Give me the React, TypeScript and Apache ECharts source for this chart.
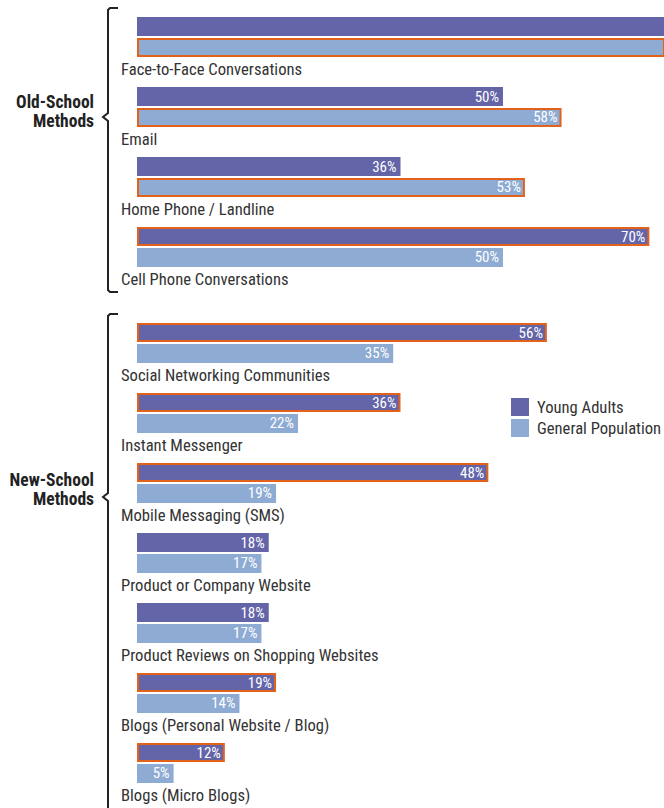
import React, { useEffect, useRef } from "react";
import * as echarts from "echarts";

const oldCategories = [
  "Face-to-Face Conversations",
  "Email",
  "Home Phone / Landline",
  "Cell Phone Conversations",
];
const oldYoung = [81, 50, 36, 70];
const oldGeneral = [84, 58, 53, 50];
const oldHighlightYoung = [false, false, false, true];
const oldHighlightGeneral = [true, true, true, false];

const newCategories = [
  "Social Networking Communities",
  "Instant Messenger",
  "Mobile Messaging (SMS)",
  "Product or Company Website",
  "Product Reviews on Shopping Websites",
  "Blogs (Personal Website / Blog)",
  "Blogs (Micro Blogs)",
];
const newYoung = [56, 36, 48, 18, 18, 19, 12];
const newGeneral = [35, 22, 19, 17, 17, 14, 5];
const newHighlightYoung = [true, true, true, false, false, true, true];
const newHighlightGeneral = [false, false, false, false, false, false, false];

const seriesNames = ["Young Adults", "General Population"];
const groupNames = ["Old-School\nMethods", "New-School\nMethods"];

const X_MAX = 72;
const PURPLE = "#6464A8";
const LIGHT = "#8EABD3";
const ORANGE = "#E2621B";
const FONT = "'Roboto Condensed', Roboto, sans-serif";

function buildData(vals: number[], hl: boolean[]) {
  return vals.map((v, i) => ({
    value: v,
    itemStyle: hl[i] ? { borderColor: ORANGE, borderWidth: 2 } : { borderWidth: 0 },
  }));
}

export default function App() {
  const ref = useRef<HTMLDivElement>(null);
  useEffect(() => {
    if (!ref.current) return;
    const chart = echarts.init(ref.current, null, { renderer: "svg" });
    const labelCfg = {
      show: true,
      position: "insideRight",
      color: "#fff",
      fontSize: 15,
      fontFamily: FONT,
      distance: 4,
      formatter: (p: any) => (p.value > X_MAX ? "" : p.value + "%"),
    };
    const yAxisBase = {
      type: "category",
      inverse: true,
      axisLine: { show: false },
      axisTick: { show: false },
      axisLabel: {
        align: "left",
        margin: 16,
        verticalAlign: "top",
        padding: [24, 0, 0, 0],
        fontSize: 16.6,
        color: "#333",
        fontFamily: FONT,
      },
    };
    const bar = (name: string, color: string, idx: number, data: any[]) => ({
      type: "bar",
      name,
      xAxisIndex: idx,
      yAxisIndex: idx,
      barWidth: 19,
      barGap: "10%",
      itemStyle: { color },
      label: labelCfg,
      data,
    });
    const bracket = (top: number, tip: number, bottom: number) => ({
      type: "polyline",
      shape: {
        points: [
          [118, top],
          [110, top],
          [108, top + 2],
          [108, tip - 4],
          [103, tip],
          [108, tip + 4],
          [108, bottom - 2],
          [110, bottom],
          [118, bottom],
        ],
      },
      style: { stroke: "#222", lineWidth: 2, fill: null },
    });
    const groupText = (y: number, text: string) => ({
      type: "text",
      x: 94,
      y,
      style: {
        text,
        align: "right",
        fontSize: 17.5,
        fontWeight: "bold",
        lineHeight: 19,
        fill: "#222",
        fontFamily: FONT,
      },
    });
    chart.setOption({
      animation: false,
      grid: [
        { left: 137, top: 2, right: 0, height: 280 },
        { left: 137, top: 308, right: 0, height: 490 },
      ],
      xAxis: [
        { type: "value", gridIndex: 0, min: 0, max: X_MAX, show: false },
        { type: "value", gridIndex: 1, min: 0, max: X_MAX, show: false },
      ],
      yAxis: [
        { ...yAxisBase, gridIndex: 0, data: oldCategories },
        { ...yAxisBase, gridIndex: 1, data: newCategories },
      ],
      legend: {
        orient: "vertical",
        left: 511,
        top: 398,
        padding: 0,
        itemWidth: 18,
        itemHeight: 18,
        itemGap: 3,
        icon: "rect",
        data: seriesNames,
        textStyle: { fontSize: 16.6, color: "#333", fontFamily: FONT, padding: [0, 0, 0, 3] },
      },
      series: [
        bar(seriesNames[0], PURPLE, 0, buildData(oldYoung, oldHighlightYoung)),
        bar(seriesNames[1], LIGHT, 0, buildData(oldGeneral, oldHighlightGeneral)),
        bar(seriesNames[0], PURPLE, 1, buildData(newYoung, newHighlightYoung)),
        bar(seriesNames[1], LIGHT, 1, buildData(newGeneral, newHighlightGeneral)),
      ],
      graphic: [
        bracket(8, 117, 292),
        bracket(314, 497, 830),
        groupText(92, groupNames[0]),
        groupText(470, groupNames[1]),
      ],
    });
    return () => chart.dispose();
  }, []);
  return (
    <div
      ref={ref}
      style={{ position: "fixed", left: 0, top: 0, width: 664, height: 808, background: "#fff" }}
    />
  );
}
